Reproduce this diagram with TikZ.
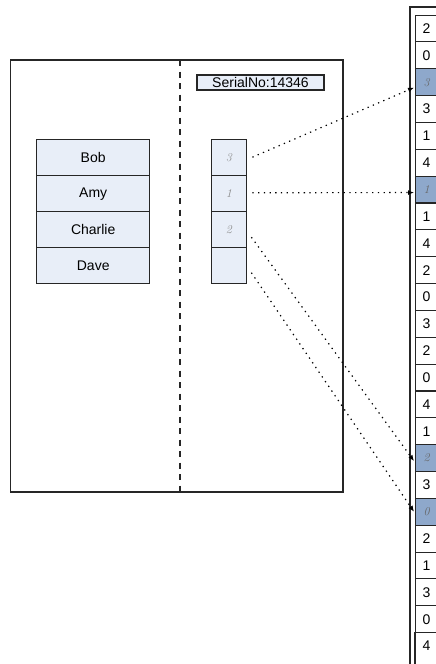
\documentclass[tikz,border=0pt]{standalone}
\usepackage{fontspec}
\newfontfamily\arialf{Liberation Sans}
\usetikzlibrary{arrows.meta,calc}
\definecolor{cellblue}{HTML}{E8EEF8}
\definecolor{hlblue}{HTML}{8EA8CB}
\definecolor{edge}{HTML}{262626}
\definecolor{handgray}{HTML}{8A8A8A}
\begin{document}
\begin{tikzpicture}[x=1pt,y=-1pt,
  namecell/.style={draw=edge,line width=1.4pt,fill=cellblue,minimum width=113pt,minimum height=36pt,inner sep=0pt,anchor=north west,font=\arialf\fontsize{14}{16}\selectfont},
  numcell/.style={draw=edge,line width=1.4pt,fill=cellblue,minimum width=35.5pt,minimum height=36pt,inner sep=0pt,anchor=north west,font=\itshape\fontsize{12}{14}\selectfont,text=handgray},
  listcell/.style={draw=edge,line width=1.1pt,fill=white,minimum width=22pt,minimum height=26.85pt,inner sep=0pt,anchor=north west,font=\arialf\fontsize{14}{16}\selectfont},
  hlcell/.style={listcell,fill=hlblue,font=\itshape\fontsize{12}{14}\selectfont,text=black!60},
  link/.style={line width=1.2pt,dash pattern=on 1.3pt off 4.4pt,-{Latex[length=6pt,width=5pt]}}
]
\useasboundingbox (0,0) rectangle (436,664);
\clip (0,0) rectangle (436,664);
% main box
\draw[edge,line width=1.3pt] (10.5,60) rectangle (343,492);
\coordinate (dtop) at (180,60);
\coordinate (dbot) at (180,492);
\draw[edge,line width=1.3pt,dash pattern=on 6pt off 5.5pt] (dtop) -- (dbot);
% serial
\node[draw=edge,line width=1.2pt,fill=cellblue,minimum width=127pt,minimum height=15pt,inner sep=0pt,font=\arialf\fontsize{14}{15}\selectfont] (serial) at (260.5,82.5) {SerialNo:14346};
% names
\node[namecell] (a1) at (36,139) {Bob};
\node[namecell] (a2) at (36,175) {Amy};
\node[namecell] (a3) at (36,211) {Charlie};
\node[namecell] (a4) at (36,247) {Dave};
% numbers
\node[numcell] (n1) at (210.5,139) {3};
\node[numcell] (n2) at (210.5,175) {1};
\node[numcell] (n3) at (210.5,211) {2};
\node[numcell] (n4) at (210.5,247) {};
% right list outer
\draw[edge,line width=1.1pt] (410,700) -- (410,7) -- (450,7);
% list cells
\foreach \i/\v/\s in {0/2/listcell,1/0/listcell,2/3/hlcell,3/3/listcell,4/1/listcell,5/4/listcell,6/1/hlcell,7/1/listcell,8/4/listcell,9/2/listcell,10/0/listcell,11/3/listcell,12/2/listcell,13/0/listcell,14/4/listcell,15/1/listcell,16/2/hlcell,17/3/listcell,18/0/hlcell,19/2/listcell,20/1/listcell,21/3/listcell,22/0/listcell}{
  \node[\s] (r\i) at (415,14.5+\i*26.85) {\v};
}
\node[listcell,draw=none] (r23) at (415,632.05) {4};
\draw[edge,line width=1.1pt] (r23.north west) -- ($(r23.south west)+(0,20)$);
% links
\draw[link] ($(n1.east)+(5,-0.5)$) -- ($(r2.west)+(-1,5.4)$);
\draw[link] ($(n2.east)+(5,-1)$) -- ($(r6.west)+(-1,3)$);
\draw[link] ($(n3.east)+(4,7.5)$) -- ($(r16.west)+(-1,3)$);
\draw[link] ($(n4.east)+(4,7)$) -- ($(r18.west)+(-1,0)$);
\end{tikzpicture}
\end{document}
